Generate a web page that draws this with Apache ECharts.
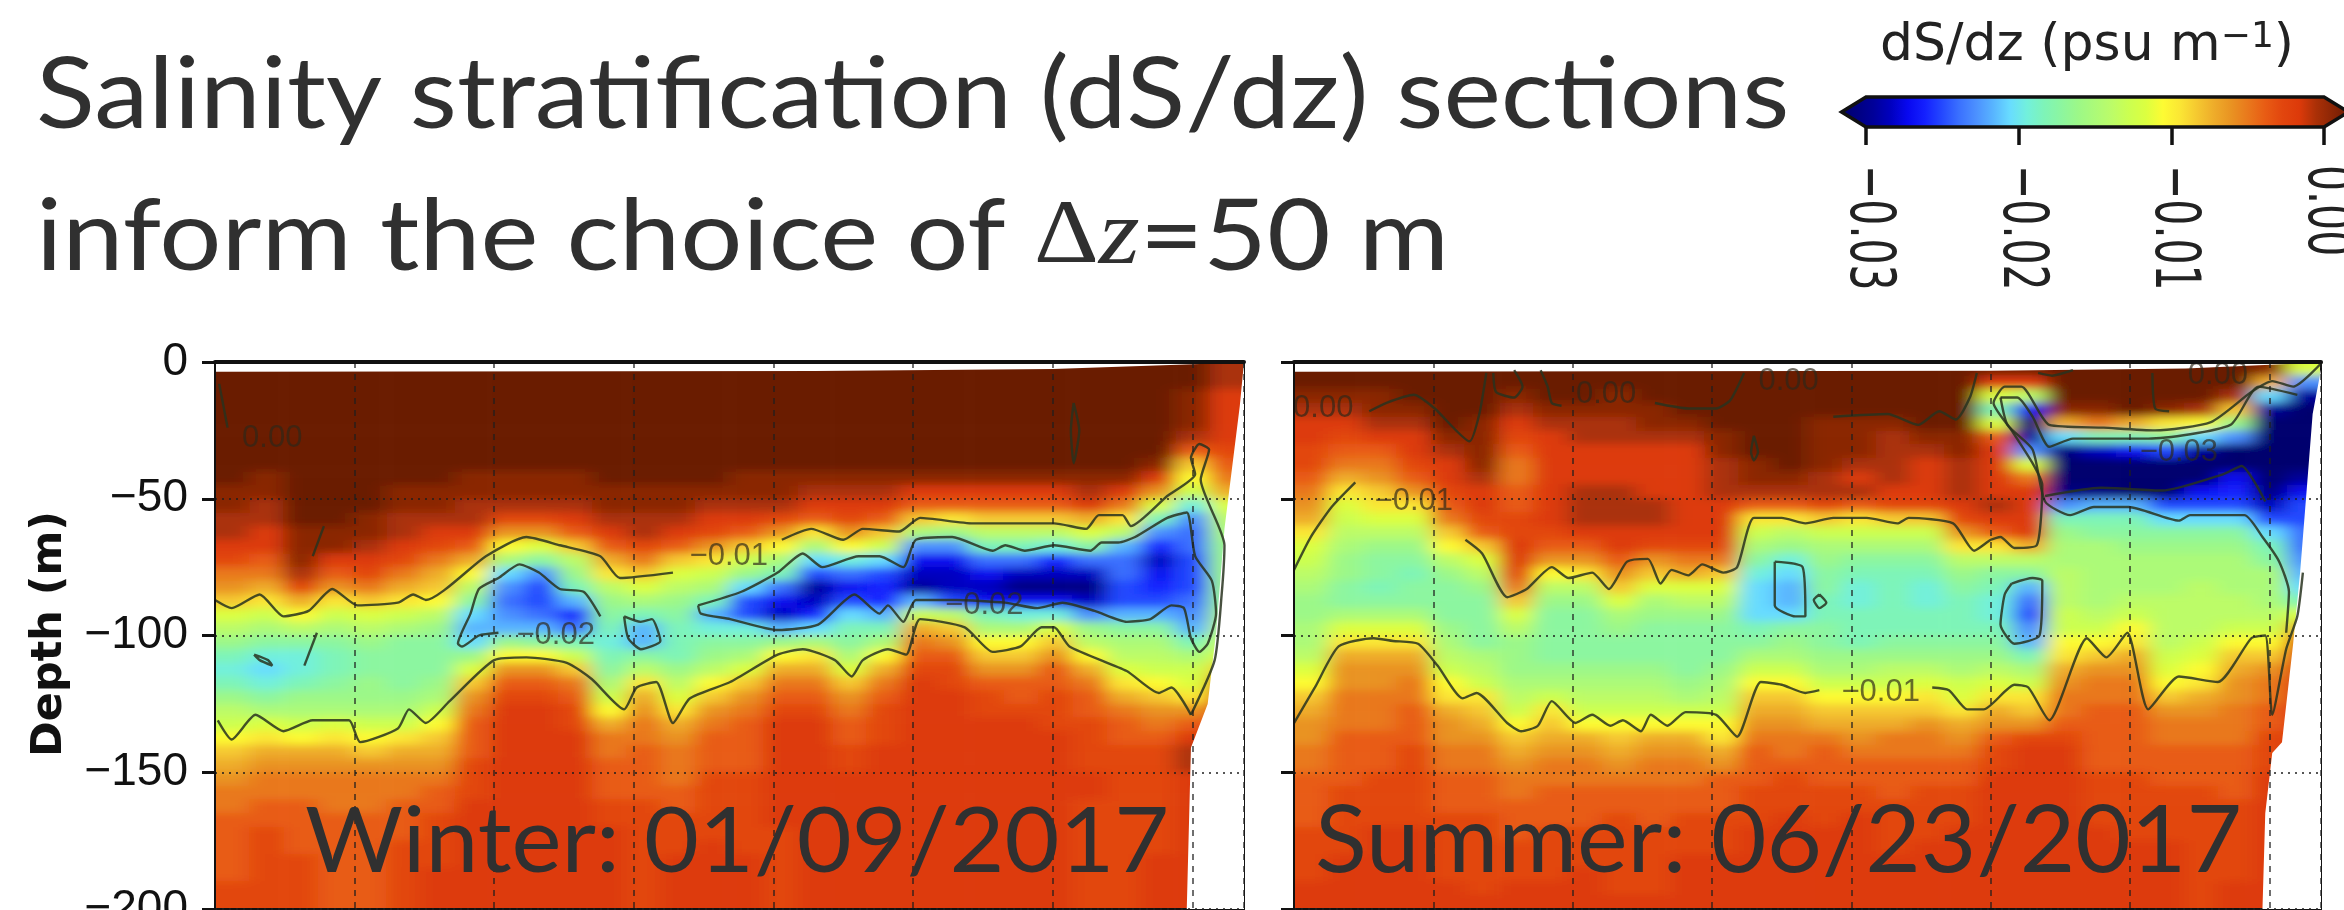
<!DOCTYPE html>
<html><head><meta charset="utf-8">
<script src="https://cdn.jsdelivr.net/npm/echarts@6/dist/echarts.min.js"></script>
<style>
html,body{margin:0;padding:0;background:#fff;width:2344px;height:910px;overflow:hidden}
#clip{position:absolute;left:0;top:0;width:2344px;height:910px;clip-path:path('M215 362H1244V910H215Z M1294 362H2321V910H1294Z')}
#heat{position:absolute;left:0;top:0;width:2344px;height:960px;filter:url(#soft)}
#main{position:absolute;left:0;top:0;width:2344px;height:910px}
</style></head><body>
<svg width="0" height="0" style="position:absolute"><filter id="soft" x="0" y="0" width="100%" height="100%"><feGaussianBlur stdDeviation="10 4.5"/></filter></svg>
<div id="clip"><div id="heat"></div></div>
<div id="main"></div>
<script>
// colour ramp, one colour per 0.001 psu/m from -0.03 to 0.00
const rampColors = ['#00006e','#000080','#00009a','#0000c0','#0808f0','#1420ff','#2448ff','#3a70ff','#4c90ff','#58b4ff','#68dcff','#72f0dc','#7ef4b8','#8cf6a0','#9cf888','#acfa78','#bcfc68','#ccff50','#dcff40','#fdfb33','#fbe634','#f5c830','#eeac2a','#e99322','#e9781c','#e85c14','#e2460e','#dd3a0a','#aa3007','#8a2505','#6b1a04'];
const colorbarTicks = [-0.03,-0.02,-0.01,0];
const depthTicks = [0,-50,-100,-150,-200];
// Profiles of -dS/dz in 0.001 psu/m; one list per station, 40 depth bins of 5 m from the surface
const winterProfiles = [
[0,0,0,0,0,0,0,0,0,1,1,2,2,3,4,6,7,9,12,14,16,18,19,18,16,14,13,11,9,8,7,6,6,5,5,5,5,5,4,4],
[0,0,0,0,0,0,0,0,1,1,2,2,3,3,5,6,8,10,13,15,17,19,20,19,17,15,12,10,8,7,6,6,5,5,4,4,4,4,4,4],
[0,0,0,0,0,0,0,0,0,0,0,0,1,1,1,2,4,8,11,14,17,19,19,18,16,15,13,11,8,7,6,6,5,5,5,5,4,4,4,4],
[0,0,0,0,0,0,0,0,0,0,0,0,1,1,3,5,7,10,13,15,17,18,18,17,16,15,12,10,8,7,6,6,6,5,5,5,5,5,5,5],
[0,0,0,0,0,0,0,0,0,0,0,1,1,2,3,4,6,9,12,14,16,17,17,16,16,15,13,11,9,7,6,6,6,5,5,5,5,5,5,5],
[0,0,0,0,0,0,0,0,0,1,1,2,2,3,4,6,8,10,13,15,17,17,17,17,16,15,13,10,8,7,6,6,5,5,5,4,4,4,4,4],
[0,0,0,0,0,0,0,0,0,1,1,2,3,4,6,8,9,11,14,16,17,17,17,16,15,13,11,9,8,7,6,5,5,4,4,4,4,3,3,3],
[0,0,0,0,0,0,0,0,1,1,2,2,3,5,8,11,14,17,20,21,20,16,12,9,7,6,5,5,5,4,4,4,3,3,3,3,3,3,3,3],
[0,0,0,0,0,0,0,0,1,1,2,4,7,11,15,20,22,23,22,21,16,11,7,5,4,3,3,3,3,3,3,3,3,3,3,3,3,3,3,3],
[0,0,0,0,0,0,0,0,1,1,2,4,7,12,17,22,24,24,23,21,17,11,7,5,4,3,3,3,3,3,3,3,3,3,3,3,3,3,3,3],
[0,0,0,0,0,0,0,0,1,1,2,3,5,9,14,16,18,21,25,23,18,13,9,6,5,4,4,3,3,3,3,3,3,3,3,3,3,3,3,3],
[0,0,0,0,0,0,0,0,0,1,1,2,3,5,8,10,14,16,17,18,19,18,17,15,13,11,8,6,6,5,5,5,4,4,3,3,3,3,3,3],
[0,0,0,0,0,0,0,0,0,1,1,2,2,4,6,9,12,15,18,21,21,17,14,10,8,7,6,6,5,5,5,5,4,4,4,4,4,4,4,4],
[0,0,0,0,0,0,0,0,0,1,1,2,3,5,9,12,14,16,17,18,18,18,16,14,12,10,8,7,6,6,6,5,5,4,4,4,3,3,3,3],
[0,0,0,0,0,0,0,0,0,1,2,3,4,7,10,13,15,18,21,19,17,16,14,11,9,7,6,5,5,5,4,4,4,4,4,3,3,3,3,3],
[0,0,0,0,0,0,0,0,1,1,2,3,5,9,13,16,20,24,24,19,17,15,12,9,7,6,5,5,5,5,4,4,4,4,4,4,3,3,3,3],
[0,0,0,0,0,0,0,0,1,1,2,4,7,11,15,18,23,26,27,21,16,11,8,6,5,4,3,3,3,3,3,3,3,3,4,4,4,4,4,4],
[0,0,0,0,0,0,0,0,1,2,3,5,10,15,20,24,28,27,25,20,15,10,8,6,5,4,3,3,3,3,3,3,3,3,3,3,3,3,3,3],
[0,0,0,0,0,0,0,0,1,2,3,4,7,11,19,23,26,24,20,18,17,15,12,9,7,6,5,5,4,4,3,3,3,3,3,3,3,3,3,3],
[0,0,0,0,0,0,0,0,1,2,3,5,9,13,20,24,25,25,21,18,15,11,8,6,5,4,4,4,3,3,3,3,3,3,3,3,3,3,3,3],
[0,0,0,0,0,0,0,0,1,3,5,9,15,22,26,27,28,21,13,8,6,5,4,3,3,3,3,3,3,3,3,3,3,3,3,3,3,3,3,3],
[0,0,0,0,0,0,0,0,1,3,5,10,16,22,26,27,27,24,14,9,7,5,4,4,3,3,3,3,3,3,3,3,3,3,3,3,3,3,3,3],
[0,0,0,0,0,0,0,0,1,3,5,9,14,18,23,26,27,26,18,15,11,9,7,5,4,4,3,3,3,3,3,3,3,3,3,3,3,3,3,3],
[0,0,0,0,0,0,0,0,1,3,5,9,14,18,23,27,29,26,19,15,11,9,7,5,5,4,3,3,3,3,3,3,3,3,3,3,3,3,3,3],
[0,0,0,0,0,0,0,0,1,3,5,9,14,19,25,27,29,26,19,12,9,7,5,5,4,4,4,3,3,3,3,3,3,3,3,3,3,3,3,3],
[0,0,0,0,0,0,0,0,1,2,3,8,12,17,23,27,29,27,22,16,14,11,8,6,5,5,4,4,4,4,3,3,4,4,4,4,4,4,4,4],
[0,0,0,0,0,0,0,0,1,3,6,10,14,21,23,23,24,24,21,17,15,14,12,10,8,6,5,5,4,4,4,4,4,4,4,4,4,4,4,4],
[0,0,0,0,0,0,0,1,3,7,12,18,22,25,27,26,25,24,21,17,15,14,13,11,9,7,6,5,4,4,4,4,4,4,4,4,3,3,3,3],
[0,0,1,1,1,2,5,9,11,13,19,22,23,23,24,24,24,23,22,21,18,15,13,12,10,7,5,3,2,2,3,3,3,3,3,3,3,3,3,3],
[2,2,3,3,3,3,4,5,6,8,12,14,15,16,16,16,16,16,15,14,13,12,9,5,3,3,3,3,3,3,3,3,3,3,3,3,3,3,3,3]
];
const summerProfiles = [
[0,0,1,2,3,3,4,4,5,6,7,8,10,12,13,14,15,16,16,15,15,14,12,11,9,8,7,7,6,6,5,5,5,5,4,4,4,4,3,3],
[0,0,1,2,3,4,5,6,8,10,12,13,14,15,16,16,17,17,15,12,10,8,7,7,6,6,6,5,5,5,5,4,4,4,4,4,3,3,3,3],
[0,0,1,1,2,3,5,6,7,9,10,12,14,16,17,17,18,17,15,12,10,8,7,7,6,6,6,5,5,5,4,4,4,4,3,3,3,3,3,3],
[0,0,0,1,2,3,3,4,5,7,10,12,14,16,17,18,17,17,15,12,10,8,7,6,6,5,5,5,4,4,4,4,4,4,3,3,3,3,3,3],
[0,0,0,0,0,1,2,3,3,4,5,6,9,11,14,16,17,17,17,16,15,14,13,11,10,8,7,7,6,6,5,5,5,4,4,4,4,4,3,3],
[0,0,0,0,1,1,1,1,2,3,3,4,5,9,12,14,16,17,17,17,17,15,14,13,10,9,8,7,6,6,5,5,5,4,4,4,4,4,4,3],
[0,0,1,2,3,4,5,6,6,5,5,4,4,3,3,4,6,9,12,14,16,16,16,15,14,13,11,9,8,7,6,6,5,5,5,4,4,4,3,3],
[0,0,0,1,2,3,3,3,3,3,3,3,4,5,7,11,14,16,17,17,17,17,16,15,13,10,9,8,7,6,6,5,5,5,4,4,4,4,3,3],
[0,0,0,1,2,2,3,3,3,2,2,2,3,5,7,10,14,16,17,17,17,17,16,15,14,13,11,8,7,6,6,5,5,5,4,4,4,3,3,3],
[0,0,1,1,2,2,3,3,3,2,2,2,3,3,5,7,9,12,15,16,17,17,16,15,14,13,11,9,8,7,6,5,5,4,4,4,4,4,4,3],
[0,0,0,1,1,2,3,3,3,3,2,2,3,4,7,9,12,15,16,17,17,17,16,15,14,13,11,8,7,6,6,5,5,5,4,4,4,4,4,3],
[0,0,0,0,1,2,3,3,3,3,3,3,3,4,6,8,12,14,16,17,17,17,17,16,15,13,11,8,7,6,6,5,5,4,4,4,3,3,3,3],
[0,0,0,0,0,1,1,2,2,2,3,3,3,4,6,9,12,14,16,17,17,17,16,15,14,13,11,10,8,7,5,5,5,4,4,4,3,3,3,3],
[0,0,0,0,0,0,0,1,1,2,5,10,13,15,17,19,20,20,20,18,17,15,13,11,9,8,7,6,5,5,5,4,4,4,3,3,3,3,3,3],
[0,0,0,0,0,0,0,0,1,2,5,10,14,16,19,20,21,21,20,17,16,15,13,11,9,8,7,6,6,5,4,4,4,3,3,3,3,3,3,3],
[0,0,0,0,1,1,1,1,2,2,4,9,13,15,16,17,17,18,18,17,17,16,15,13,11,9,8,6,5,5,5,4,4,4,3,3,3,3,3,3],
[0,0,0,0,1,1,1,2,3,2,5,10,13,15,17,18,19,19,18,18,18,16,15,13,11,9,8,7,6,5,5,4,4,3,3,3,3,3,3,3],
[0,0,0,0,1,2,2,2,2,3,4,9,13,15,17,18,18,18,18,18,17,16,14,13,11,9,8,6,6,5,5,5,4,4,4,4,3,3,3,3],
[0,0,0,0,0,1,2,3,3,3,4,9,13,15,17,18,19,19,18,18,17,16,14,12,10,9,7,6,6,5,5,4,4,4,4,3,3,3,3,3],
[0,0,0,0,0,1,1,2,2,2,3,4,7,10,14,16,17,18,18,18,17,16,15,13,12,10,8,7,6,5,5,4,4,4,3,3,3,3,3,3],
[0,3,12,18,12,5,3,3,3,3,2,3,5,10,14,17,18,19,19,18,17,16,14,12,10,8,7,5,4,4,3,3,3,3,3,3,3,3,3,3],
[0,3,14,26,30,28,22,12,6,3,3,3,3,8,14,17,21,23,24,22,21,18,15,13,10,9,7,4,3,3,3,3,3,3,3,3,3,3,3,3],
[0,0,0,1,8,20,29,30,30,29,22,18,16,15,15,14,14,14,13,13,11,10,8,7,6,6,5,4,3,3,3,3,3,3,3,3,3,3,3,3],
[0,0,0,1,6,18,27,30,30,29,21,18,17,15,15,15,15,15,14,13,11,9,7,6,6,5,5,5,5,5,4,4,4,4,3,3,3,3,3,3],
[0,0,0,0,8,18,26,30,30,30,21,18,17,16,15,15,15,14,13,11,10,8,7,6,6,5,5,5,5,5,4,4,4,4,4,3,3,3,3,3],
[0,0,0,1,10,17,24,30,30,30,24,20,17,16,15,15,15,14,14,14,14,13,12,11,9,7,6,6,5,5,5,4,4,4,4,3,3,3,3,3],
[0,0,0,2,11,20,28,30,30,26,24,20,17,16,15,15,14,14,14,14,13,12,11,10,8,7,6,6,5,5,5,4,4,4,4,4,4,4,4,4],
[0,0,2,9,16,22,30,30,26,25,24,20,17,16,15,15,15,14,14,13,11,9,8,7,7,6,6,6,5,5,5,5,4,4,4,4,4,4,3,3],
[1,8,20,28,30,30,30,30,30,29,27,24,20,18,17,15,15,15,14,13,11,9,7,6,6,5,5,4,4,4,3,3,3,3,3,3,3,3,3,3],
[12,22,28,30,30,30,30,30,28,26,24,24,23,23,22,21,20,18,12,8,3,3,3,3,3,3,3,3,3,3,3,3,3,3,3,3,3,3,3,3]
];
// Contours: [distance (gridline spacing = 100), depth m]
const w01UpperA = [[0,87],[12,90],[32,85],[49,93],[67,91],[84,83],[102,89],[131,88],[142,85],[151,87],[194,71],[223,64],[247,67],[276,71],[290,79],[328,77]];
const w01UpperB = [[406,65],[427,61],[450,65],[464,61],[490,62],[505,57],[543,59],[601,59],[624,61],[633,56],[650,56],[656,60],[682,49],[702,41],[699,35],[705,30],[712,32],[706,43],[723,67],[721,85],[716,109],[699,129]];
const w01Lower = [[2,131],[12,138],[29,129],[49,135],[70,131],[96,131],[104,139],[131,134],[139,127],[151,132],[168,124],[200,109],[223,108],[252,110],[270,116],[293,127],[302,119],[316,117],[328,132],[340,123],[369,117],[403,107],[421,105],[444,109],[456,115],[464,109],[482,105],[495,107],[505,94],[537,97],[557,106],[577,104],[592,97],[601,97],[612,104],[653,113],[676,121],[685,119],[699,129]];
const w02Blob1 = [[203,99],[189,100],[177,104],[174,103],[183,92],[189,83],[203,79],[218,74],[232,77],[247,83],[264,84],[276,93]];
const w02Blob2 = [[293,93],[305,95],[313,94],[319,102],[305,105],[296,101],[293,93]];
const w02Blob3 = [[28,107],[38,109],[41,111],[32,109],[28,107]];
const w02Slash = [[73,99],[64,111]];
const w02Main = [[346,89],[377,84],[403,77],[421,70],[435,75],[461,71],[476,71],[493,75],[502,65],[528,64],[557,69],[566,67],[580,69],[601,67],[627,69],[635,66],[647,66],[659,64],[682,57],[696,55],[702,71],[714,80],[717,92],[711,103],[705,106],[699,101],[694,90],[685,89],[670,94],[653,95],[630,91],[607,88],[589,90],[566,88],[531,87],[502,87],[493,95],[482,89],[476,92],[458,85],[432,96],[403,98],[369,94],[348,92],[346,89]];
const w00Oval = [[615,15],[619,25],[615,37],[613,25],[615,15]];
const w00Slash = [[78,60],[70,71]];
const w00Left = [[3,8],[9,24]];
const s01UpperA = [[0,76],[12,64],[27,53],[44,44]];
const s01UpperB = [[123,65],[135,70],[153,86],[167,83],[185,75],[197,79],[214,77],[226,83],[239,73],[254,72],[263,81],[271,76],[283,78],[293,74],[308,77],[318,75],[330,57],[350,57],[367,59],[387,57],[411,57],[433,59],[441,57],[473,59],[488,69],[500,65],[507,64],[517,68],[533,67],[537,45],[530,37],[515,25],[502,15],[510,9],[522,9],[542,23],[581,24],[618,25],[658,22],[687,11],[702,7],[717,9],[738,0]];
const s01LowerA = [[0,132],[15,119],[32,104],[57,101],[71,102],[89,103],[103,111],[121,123],[131,121],[153,132],[163,135],[175,133],[185,124],[202,132],[214,129],[227,133],[236,131],[249,135],[256,129],[268,133],[281,128],[303,129],[318,137],[335,117],[350,118],[367,121],[377,120]];
const s01LowerB = [[458,119],[470,120],[483,127],[495,127],[517,118],[527,119],[542,131],[569,101],[583,108],[598,99],[613,127],[635,115],[663,117],[687,101],[697,100],[702,129],[712,105],[720,93],[724,77]];
const s02Main = [[507,13],[519,13],[530,20],[542,31],[559,28],[613,28],[672,23],[692,9],[720,12]];
const s02Lower = [[507,13],[512,23],[530,32],[539,51],[557,56],[574,53],[599,53],[635,58],[643,56],[682,56],[695,64],[707,73],[714,84],[712,99]];
const s03Lower = [[539,49],[579,46],[623,47],[667,41],[680,38],[697,51]];
const s02Box = [[345,73],[365,75],[367,93],[360,93],[345,89],[345,73]];
const s02Dot = [[377,85],[382,88],[377,90],[373,87],[377,85]];
const s02Blob = [[515,81],[530,79],[537,80],[535,100],[517,103],[507,96],[510,85],[515,81]];
const s00A = [[54,18],[66,15],[86,12],[101,17],[126,29],[133,19],[138,4]];
const s00B = [[143,4],[145,11],[158,13],[164,9],[158,3]];
const s00C = [[177,3],[182,9],[185,15],[192,16]];
const s00D = [[259,15],[283,17],[303,17],[313,14],[323,4]];
const s00E = [[387,20],[426,19],[448,23],[463,18],[475,21],[485,13],[490,4]];
const s00F = [[534,4],[544,5],[559,3]];
const s00G = [[616,4],[618,17],[628,18]];
const s00H = [[330,27],[333,33],[330,36],[328,33],[330,27]];
const winterContours = [w01UpperA,w01UpperB,w01Lower,w02Blob1,w02Blob2,w02Blob3,w02Slash,w02Main,w00Oval,w00Slash,w00Left];
const summerContours = [s01UpperA,s01UpperB,s01LowerA,s01LowerB,s02Main,s02Lower,s03Lower,s02Box,s02Dot,s02Blob,s00A,s00B,s00C,s00D,s00E,s00F,s00G,s00H];
const winterLabels = [[41,28,'0.00'],[368,71,'\u22120.01'],[244,100,'\u22120.02'],[551,89,'\u22120.02']];
const summerLabels = [[21,17,'0.00'],[224,12,'0.00'],[355,7,'0.00'],[663,5,'0.00'],[86,51,'\u22120.01'],[421,121,'\u22120.01'],[635,33,'\u22120.03']];
// Land/no-data outline at the right of each section and surface gap: [distance, depth]
const winterEdge = [[737,0],[734,16],[723,61],[717,99],[711,125],[699,141],[696,200]];
const summerEdge = [[738,0],[731,19],[727,45],[722,77],[717,103],[709,139],[702,143],[697,165],[695,200]];
const winterGap = [[0,0],[0,3.6],[430,3.3],[600,2.6],[737,0.2]];
const summerGap = [[0,0],[0,3.6],[500,3.2],[640,2.4],[738,0.2]];

const GRIDS = [{left:215,top:362,width:1029,height:547},{left:1294,top:362,width:1027,height:547}];
const XMAX = 737;

/* ---------- soft heat layer ---------- */
function heatCells(profiles){
  const pad=[profiles[0],...profiles,profiles[profiles.length-1]];
  const out=[];
  pad.forEach((col,i)=>{
    const c=[col[0],...col,col[col.length-1]];
    c.forEach((v,j)=>out.push([i,j,-v/1000]));
  });
  return out;
}
const padCols=[...Array(32).keys()], padRows=[...Array(42).keys()];
const heatGrids=GRIDS.map(g=>{const cw=g.width/30,rh=g.height/40;return {left:g.left-cw,top:g.top-rh,width:g.width+2*cw,height:g.height+2*rh,show:false,outerBoundsMode:'none'};});
const heat=echarts.init(document.getElementById('heat'),null,{renderer:'canvas'});
heat.setOption({
  animation:false,
  grid:heatGrids,
  xAxis:heatGrids.map((_,i)=>({gridIndex:i,type:'category',data:padCols,show:false})),
  yAxis:heatGrids.map((_,i)=>({gridIndex:i,type:'category',data:padRows,inverse:true,show:false})),
  visualMap:{show:false,min:-0.03,max:0,dimension:2,seriesIndex:[0,1],inRange:{color:rampColors}},
  series:[winterProfiles,summerProfiles].map((p,i)=>({type:'heatmap',xAxisIndex:i,yAxisIndex:i,data:heatCells(p),progressive:0,animation:false,itemStyle:{borderWidth:0}}))
});

/* ---------- crisp layer ---------- */
const CONTOUR='rgba(40,50,30,0.85)';
function contourSeries(list,ax){
  return list.map(seg=>({type:'line',xAxisIndex:ax,yAxisIndex:ax,data:seg.map(p=>[p[0],-p[1]]),showSymbol:false,symbol:'none',smooth:0.2,lineStyle:{color:CONTOUR,width:2.4},silent:true,z:3,clip:true}));
}
function labelSeries(list,ax){
  return {type:'scatter',xAxisIndex:ax,yAxisIndex:ax,symbolSize:0,data:list.map(l=>({value:[l[0],-l[1]],name:l[2]})),z:4,silent:true,
    label:{show:true,position:'inside',formatter:p=>p.name,fontFamily:'Liberation Sans',fontSize:31,color:'rgba(45,40,25,0.85)'}};
}
function maskSeries(points,ax){
  return {type:'custom',xAxisIndex:ax,yAxisIndex:ax,data:[[0,0]],z:1,silent:true,clip:true,
    renderItem:(p,api)=>({type:'polygon',shape:{points:points.map(q=>api.coord([q[0],-q[1]]))},style:{fill:'#fff'}})};
}
function edgeMask(edge){return [...edge,[XMAX+5,200],[XMAX+5,0]];}
const cbStops=rampColors.map((c,i)=>({offset:i/(rampColors.length-1),color:c}));
const panelAxisX=i=>({gridIndex:i,type:'value',min:0,max:XMAX,interval:100,position:'top',z:5,
  axisLine:{show:true,lineStyle:{color:'#111',width:4}},axisTick:{show:false},axisLabel:{show:false},
  splitLine:{show:true,lineStyle:{color:'rgba(30,30,30,0.8)',width:1.6,type:[6,6]}}});
const panelAxisY=i=>({gridIndex:i,type:'value',min:-200,max:0,interval:50,z:5,
  axisLine:{show:true,lineStyle:{color:'#111',width:2}},axisTick:{show:true,length:13,lineStyle:{color:'#111',width:3}},
  axisLabel:{show:i===0,margin:27,fontFamily:'Liberation Sans',fontSize:46,color:'#111',hideOverlap:false,showMinLabel:true,showMaxLabel:true,
    formatter:v=>depthTicks.includes(v)?String(v).replace('-','\u2212'):''},
  splitLine:{show:true,lineStyle:{color:'rgba(30,30,30,0.75)',width:2,type:[2,5]}}});
const TEXT='#303030';
const chart=echarts.init(document.getElementById('main'),null,{renderer:'canvas'});
chart.setOption({
  animation:false,
  backgroundColor:'transparent',
  grid:[...GRIDS.map(g=>({...g,show:true,borderColor:'#111',borderWidth:2,backgroundColor:'transparent',outerBoundsMode:'none'})),
        {left:1866,top:97,width:458,height:30,show:false,outerBoundsMode:'none'}],
  xAxis:[panelAxisX(0),panelAxisX(1),
    {gridIndex:2,type:'value',min:-0.03,max:0,interval:0.01,position:'bottom',z:5,
     axisLine:{show:false},axisTick:{show:true,length:18,lineStyle:{color:'#111',width:3.5}},splitLine:{show:false},axisLabel:{show:false}}],
  yAxis:[panelAxisY(0),panelAxisY(1),{gridIndex:2,type:'value',min:0,max:1,show:false}],
  series:[
    maskSeries(edgeMask(winterEdge),0),maskSeries(winterGap,0),
    maskSeries(edgeMask(summerEdge),1),maskSeries(summerGap,1),
    ...contourSeries(winterContours,0),...contourSeries(summerContours,1),
    labelSeries(winterLabels,0),labelSeries(summerLabels,1),
    {type:'custom',xAxisIndex:2,yAxisIndex:2,data:[[0,0]],clip:false,silent:true,z:2,
     renderItem:(p,api)=>({type:'polygon',
       shape:{points:[[-0.0316,0.5],[-0.03,1],[0,1],[0.0016,0.5],[0,0],[-0.03,0]].map(q=>api.coord(q))},
       style:{fill:{type:'linear',x:0,y:0,x2:1,y2:0,colorStops:cbStops},stroke:'#111',lineWidth:3.5,lineJoin:'miter'}})},
    {type:'custom',xAxisIndex:2,yAxisIndex:2,data:colorbarTicks.map(t=>[t,0]),clip:false,silent:true,z:2,
     renderItem:(p,api)=>{const v=api.value(0),c=api.coord([v,0]);
       return {type:'text',x:c[0]+1,y:c[1]+38,rotation:-Math.PI/2,scaleY:1.5,
         style:{text:v.toFixed(2).replace('-','\u2212'),font:'41px "DejaVu Sans"',fill:'#222',align:'left',verticalAlign:'middle'}};}}
  ],
  graphic:[
    {type:'text',x:36,y:96,scaleX:1.11,style:{text:'Salinity stratification (dS/dz) sections',font:'98px Lato',fill:TEXT,verticalAlign:'middle'}},
    {type:'text',x:36,y:238,scaleX:1.12,style:{text:'{a|inform the choice of }{d|\u0394}{z|z}{a|=50 m}',fill:TEXT,verticalAlign:'middle',
      rich:{a:{font:'98px Lato',fill:TEXT},d:{font:'90px "Liberation Serif"',fill:TEXT},z:{font:'italic 94px "Liberation Serif"',fill:TEXT}}}},
    {type:'text',x:305,y:842,z:10,scaleX:1.03,style:{text:'Winter: 01/09/2017',font:'92px Lato',fill:TEXT,verticalAlign:'middle'}},
    {type:'text',x:1315,y:842,z:10,scaleX:1.03,style:{text:'Summer: 06/23/2017',font:'93px Lato',fill:TEXT,verticalAlign:'middle'}},
    {type:'text',x:50,y:634,rotation:Math.PI/2,style:{text:'Depth (m)',font:'bold 43px "DejaVu Sans"',fill:'#111',align:'center',verticalAlign:'middle'}},
    {type:'text',x:2087,y:46,style:{text:'{a|dS/dz (psu m}{s|\u22121}{a|)}',align:'center',verticalAlign:'middle',
      rich:{a:{font:'52px "DejaVu Sans"',fill:'#222'},s:{font:'36px "DejaVu Sans"',fill:'#222',verticalAlign:'top',padding:[0,0,16,0]}}}}
  ]
});
</script>
</body></html>
